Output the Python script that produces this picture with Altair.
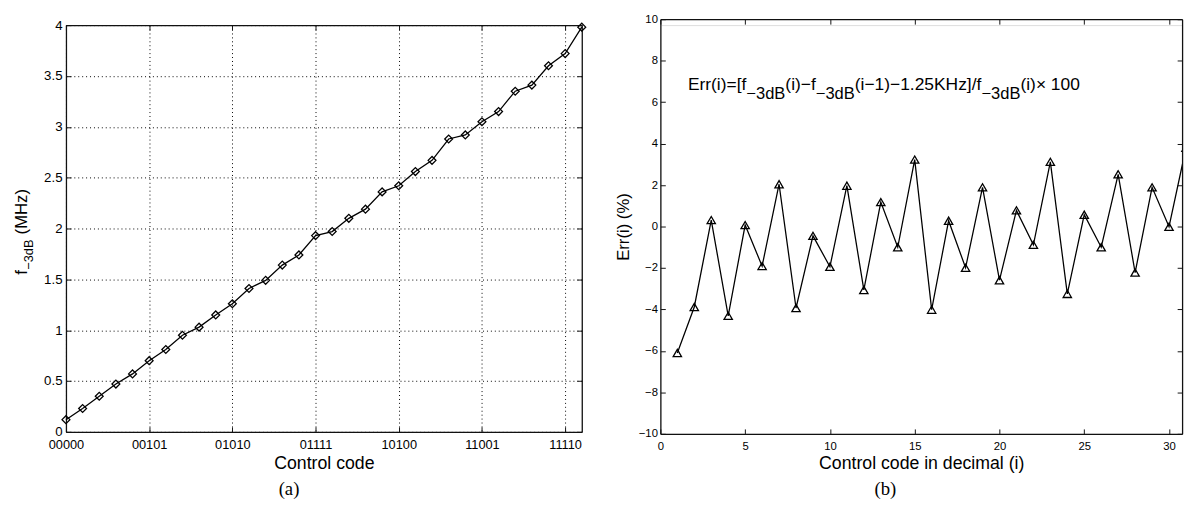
import altair as alt
import pandas as pd

# ---------------- data ----------------
code = list(range(32))
f3db = [0.12, 0.23, 0.35, 0.47, 0.57, 0.70, 0.81, 0.95, 1.03, 1.15, 1.26, 1.41,
        1.49, 1.64, 1.74, 1.93, 1.97, 2.10, 2.19, 2.36, 2.42, 2.56, 2.67, 2.88,
        2.92, 3.05, 3.15, 3.35, 3.41, 3.60, 3.72, 3.98]
code_ticks = [0, 5, 10, 15, 20, 25, 30]
code_labels = ["00000", "00101", "01010", "01111", "10100", "11001", "11110"]
f_ticks = [0, 0.5, 1, 1.5, 2, 2.5, 3, 3.5, 4]

idx = list(range(1, 32))
err = [-6.10, -3.88, 0.31, -4.31, 0.07, -1.91, 2.04, -3.93, -0.45, -1.94, 1.97,
       -3.06, 1.18, -1.00, 3.23, -4.01, 0.28, -1.99, 1.89, -2.59, 0.78, -0.88,
       3.12, -3.25, 0.57, -1.00, 2.52, -2.22, 1.89, -0.01, 3.80]
i_ticks = [0, 5, 10, 15, 20, 25, 30]
err_ticks = [-10, -8, -6, -4, -2, 0, 2, 4, 6, 8, 10]

df_a = pd.DataFrame({"code": code, "f": f3db})
df_b = pd.DataFrame({"i": idx, "err": err})
one = pd.DataFrame({"k": [0]})

SANS = "Liberation Sans"
SERIF = "Liberation Serif"
INK = "#111111"

label_expr = "[" + ",".join("'%s'" % s for s in code_labels) + "][round(datum.value/5)]"


def txt(s, x, y, size, angle=0, font=SANS, align="left", baseline="alphabetic"):
    return alt.Chart(one).mark_text(
        text=s, font=font, fontSize=size, angle=angle, align=align,
        baseline=baseline, color="black"
    ).encode(x=alt.value(x), y=alt.value(y))


def frame_axis(orient, offset, values, domain):
    return alt.Axis(orient=orient, offset=offset, values=values, labels=False,
                    domain=domain, domainColor=INK, domainWidth=1.3,
                    grid=False, ticks=True, tickSize=5, tickColor=INK, tickWidth=1,
                    title=None)


def frame_layers(base, xf, yf, xsc, ysc, xt, yt, W, top, bottom):
    # inward ticks (and top/right frame lines) drawn as extra axes
    H = bottom
    t1 = base.mark_line(opacity=0).encode(
        x=alt.X(xf, type="quantitative", scale=xsc, axis=frame_axis("top", -H, xt, False)),
        y=alt.Y(yf, type="quantitative", scale=ysc, axis=frame_axis("right", -W, yt, False)),
    )
    t2 = base.mark_line(opacity=0).encode(
        x=alt.X(xf, type="quantitative", scale=xsc, axis=frame_axis("bottom", top - H, xt, True)),
        y=alt.Y(yf, type="quantitative", scale=ysc, axis=frame_axis("left", -W, yt, True)),
    )
    return [t1, t2]


# ---------------- panel (a) ----------------
WA, HA = 525, 414
xsa = alt.Scale(domain=[0, 31], nice=False, zero=False)
ysa = alt.Scale(domain=[0, 4], nice=False)
base_a = alt.Chart(df_a)

line_a = base_a.mark_line(color="black", strokeWidth=1.3).encode(
    x=alt.X("code:Q", scale=xsa,
            axis=alt.Axis(values=code_ticks, labelExpr=label_expr, labelFlush=False,
                          grid=True, gridDash=[1, 3],
                          gridColor="black", gridOpacity=1, gridWidth=1, tickSize=0,
                          domain=True, domainColor=INK, domainWidth=1.3,
                          labelFont=SANS, labelFontSize=13, labelColor="black", labelPadding=7,
                          title="Control code", titleFont=SANS, titleFontSize=18,
                          titleFontWeight="normal", titleColor="black", titlePadding=3)),
    y=alt.Y("f:Q", scale=ysa,
            axis=alt.Axis(values=f_ticks, format="~g", labelFlush=False,
                          grid=True, gridDash=[1, 3],
                          gridColor="black", gridOpacity=1, gridWidth=1, tickSize=0,
                          domain=True, domainColor=INK, domainWidth=1.3,
                          labelFont=SANS, labelFontSize=13.5, labelColor="black", labelPadding=4,
                          title=None)),
)
pts_a = base_a.mark_point(shape="diamond", size=64, filled=False, color="black",
                          strokeWidth=1.3, opacity=1).encode(
    x=alt.X("code:Q", scale=xsa, axis=None),
    y=alt.Y("f:Q", scale=ysa, axis=None),
)
ytitle_a = [
    txt("f", -40, 254, 17, angle=270),
    txt("\u22123dB", -34, 249, 13, angle=270),
    txt("(MHz)", -40, 213, 17, angle=270),
]
cap_a = txt("(a)", 227, 472, 19, font=SERIF, align="center", baseline="middle")

panel_a = alt.layer(
    line_a, pts_a,
    *frame_layers(base_a, "code", "f", xsa, ysa, code_ticks, f_ticks, WA, 0, HA),
    *ytitle_a, cap_a
).resolve_axis(x="independent", y="independent").properties(width=WA, height=HA)

# ---------------- panel (b) ----------------
# plot origin sits 6px below the frame top so that its frame starts higher than panel (a)
WB, HB, TOPB = 531, 416, -6
xsb = alt.Scale(domain=[0, 30.77], nice=False, zero=False)
ysb = alt.Scale(domain=[-10, 10], nice=False, range=[HB, TOPB])
base_b = alt.Chart(df_b)

line_b = base_b.mark_line(color="black", strokeWidth=1.3, clip=True).encode(
    x=alt.X("i:Q", scale=xsb,
            axis=alt.Axis(values=i_ticks, labelFlush=False, grid=False, tickSize=0,
                          domain=True, domainColor=INK, domainWidth=1.3,
                          labelFont=SANS, labelFontSize=11.5, labelColor="black", labelPadding=7,
                          title="Control code in decimal (i)", titleFont=SANS, titleFontSize=18,
                          titleFontWeight="normal", titleColor="black", titlePadding=3)),
    y=alt.Y("err:Q", scale=ysb,
            axis=alt.Axis(values=err_ticks, labelFlush=False, grid=False, tickSize=0,
                          domain=True, domainColor=INK, domainWidth=1.3,
                          labelFont=SANS, labelFontSize=11.5, labelColor="black", labelPadding=3,
                          title="Err(i) (%)", titleFont=SANS, titleFontSize=17,
                          titleFontWeight="normal", titleColor="black", titlePadding=6)),
)
pts_b = base_b.mark_point(shape="triangle-up", size=72, filled=False, color="black",
                          strokeWidth=1.3, opacity=1, clip=True).encode(
    x=alt.X("i:Q", scale=xsb, axis=None),
    y=alt.Y("err:Q", scale=ysb, axis=None),
)
formula = [
    txt("Err(i)=[f", 28, 66, 17.7),
    txt("\u22123dB", 87.5, 75, 16.8),
    txt("(i)\u2212f", 127.2, 66, 17.7),
    txt("\u22123dB", 158.2, 75, 16.8),
    txt("(i\u22121)\u22121.25KHz]/f", 197.9, 66, 17.7),
    txt("\u22123dB", 326.8, 75, 16.8),
    txt("(i)\u00d7 100", 366.5, 66, 17.7),
]
cap_b = txt("(b)", 229, 472, 19, font=SERIF, align="center", baseline="middle")

panel_b = alt.layer(
    line_b, pts_b,
    *frame_layers(base_b, "i", "err", xsb, ysb, i_ticks, err_ticks, WB, TOPB, HB),
    *formula, cap_b
).resolve_axis(x="independent", y="independent").properties(width=WB, height=HB)

chart = alt.hconcat(panel_a, panel_b, spacing=24).properties(
    padding={"left": 4, "top": 0, "right": 0, "bottom": 0}
).configure_view(stroke="transparent").configure(background="white")

chart.save("out.html", embed_options={"renderer": "svg", "actions": False})
